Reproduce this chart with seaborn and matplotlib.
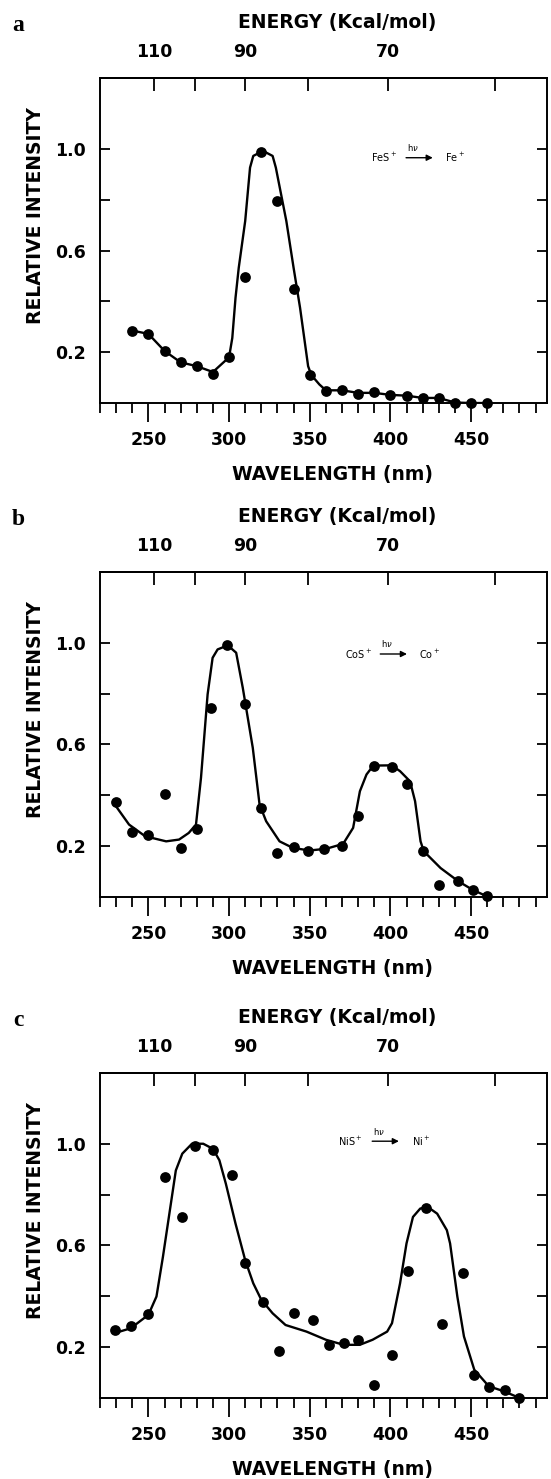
import pandas as pd
import seaborn as sns
import matplotlib.pyplot as plt
from matplotlib.ticker import MultipleLocator

# Measured points (wavelength in nm, relative intensity) for each panel
wl_a = [240, 250, 260, 270, 280, 290, 300, 310, 320, 330, 340, 350, 360, 370, 380, 390, 400, 410, 420, 430, 440, 450, 460]
int_a = [0.285, 0.272, 0.204, 0.161, 0.145, 0.116, 0.182, 0.496, 0.988, 0.795, 0.449, 0.109, 0.049, 0.053, 0.037, 0.042,
         0.032, 0.029, 0.02, 0.02, 0.0, 0.0, 0.0]

wl_b = [230, 240, 250, 260, 270, 280, 289, 299, 310, 320, 330, 340, 349, 359, 370, 380, 390, 401, 410, 420, 430, 442, 451, 460]
int_b = [0.374, 0.256, 0.242, 0.407, 0.193, 0.269, 0.742, 0.99, 0.76, 0.35, 0.173, 0.196, 0.18, 0.189, 0.2, 0.318,
         0.517, 0.511, 0.446, 0.18, 0.049, 0.062, 0.029, 0.003]

wl_c = [229, 239, 250, 260, 271, 279, 290, 302, 310, 321, 331, 340, 352, 362, 371, 380, 390, 401, 411, 422, 432, 445,
        452, 461, 471, 480]
int_c = [0.268, 0.284, 0.329, 0.869, 0.712, 0.993, 0.974, 0.878, 0.532, 0.376, 0.183, 0.336, 0.307, 0.208, 0.216, 0.229,
         0.052, 0.170, 0.50, 0.748, 0.29, 0.49, 0.089, 0.043, 0.03, 0.0]

# Hand-drawn smooth curves
fit_wl_a = [240, 250, 260, 270, 280, 290, 300, 302, 304, 306, 310, 313, 315, 321, 327, 329, 335.5, 340, 344, 349, 351,
            356, 360, 370, 380, 390, 400, 410, 420, 430, 440, 450, 460]
fit_int_a = [0.285, 0.272, 0.205, 0.16, 0.145, 0.122, 0.18, 0.256, 0.414, 0.532, 0.716, 0.926, 0.972, 0.992, 0.972,
             0.926, 0.716, 0.532, 0.375, 0.145, 0.11, 0.073, 0.05, 0.05, 0.04, 0.04, 0.032, 0.029, 0.02, 0.02, 0.002,
             0.0, 0.0]

fit_wl_b = [228, 238, 248, 261, 269, 275, 279.5, 282.6, 286.7, 289.8, 292.9, 299.2, 304.4, 308.5, 314.7, 318.9, 323,
            331.3, 339.6, 350, 360.3, 370.7, 376.9, 381.1, 385.2, 389.4, 400.8, 406, 412.2, 415.3, 418.7, 420.7, 431.1,
            442.1, 450.8, 459.7]
fit_int_b = [0.374, 0.285, 0.239, 0.219, 0.226, 0.252, 0.285, 0.469, 0.797, 0.941, 0.974, 0.99, 0.961, 0.823, 0.587,
             0.364, 0.298, 0.219, 0.193, 0.183, 0.19, 0.209, 0.272, 0.416, 0.482, 0.517, 0.518, 0.495, 0.455, 0.377,
             0.219, 0.18, 0.114, 0.062, 0.029, 0.003]

fit_wl_c = [229, 239, 250, 255, 259, 263, 267, 271, 277, 284, 290, 294, 298, 304, 310, 315, 320, 327, 335, 348, 360,
            371, 381, 389, 398, 401, 406, 410, 414, 418.5, 423, 429, 435, 437, 441.5, 445.6, 452, 461, 470.5, 480]
fit_int_c = [0.255, 0.274, 0.327, 0.399, 0.555, 0.725, 0.895, 0.961, 1.0, 1.0, 0.98, 0.935, 0.843, 0.686, 0.542, 0.451,
             0.386, 0.333, 0.287, 0.261, 0.229, 0.209, 0.209, 0.229, 0.261, 0.294, 0.451, 0.608, 0.712, 0.745, 0.752,
             0.725, 0.66, 0.608, 0.399, 0.242, 0.111, 0.046, 0.026, 0.0]

# Axis ticks and labels
x_major = [250, 300, 350, 400, 450]
y_ticks = [0.2, 0.4, 0.6, 0.8, 1.0]
y_labels = ['0.2', '', '0.6', '', '1.0']
energy_ticks = [110, 100, 90, 80, 70, 60]
energy_labels = ['110', '', '90', '', '70', '']
K_CONV = 27900  # kcal/mol * nm, as drawn on the original top axis

panels = [
    ('a', wl_a, int_a, fit_wl_a, fit_int_a, ('FeS$^+$', 'Fe$^+$'), 396, 0.965),
    ('b', wl_b, int_b, fit_wl_b, fit_int_b, ('CoS$^+$', 'Co$^+$'), 380, 0.956),
    ('c', wl_c, int_c, fit_wl_c, fit_int_c, ('NiS$^+$', 'Ni$^+$'), 375, 1.01),
]

sns.set_theme(style='ticks')
plt.rcParams['font.family'] = ['DejaVu Sans']
plt.rcParams.update({
    'axes.linewidth': 1.4,
    'axes.edgecolor': 'black',
    'text.color': 'black',
    'axes.labelcolor': 'black',
    'xtick.color': 'black',
    'ytick.color': 'black',
})

fig = plt.figure(figsize=(5.51, 14.79), dpi=100)
bottoms = [0.7275, 0.3935, 0.0548]

for (letter, wl, inten, fwl, fint, species, tx, ty), bottom in zip(panels, bottoms):
    ax = fig.add_axes([0.1815, bottom, 0.811, 0.220])

    # Smooth curve and measured points
    sns.lineplot(x=fwl, y=fint, ax=ax, sort=False, estimator=None, color='black', linewidth=1.7)
    sns.scatterplot(x=wl, y=inten, ax=ax, color='black', s=60, edgecolor='black', linewidth=0, zorder=3, clip_on=False)

    ax.set_xlim(220, 497)
    ax.set_ylim(0, 1.28)

    # Bottom wavelength axis
    ax.set_xticks(x_major)
    ax.xaxis.set_minor_locator(MultipleLocator(10))
    ax.tick_params(axis='x', which='major', direction='out', length=14, width=1.3, labelsize=12.5, pad=6)
    ax.tick_params(axis='x', which='minor', direction='out', length=7, width=1.3)
    for lab in ax.get_xticklabels():
        lab.set_fontweight('bold')
    ax.set_xlabel('WAVELENGTH (nm)', fontsize=13.5, fontweight='bold')
    ax.xaxis.set_label_coords(0.52, -0.19)

    # Intensity axis
    ax.set_yticks(y_ticks)
    ax.set_yticklabels(y_labels, fontweight='bold')
    ax.tick_params(axis='y', which='major', direction='in', length=7, width=1.3, labelsize=12.5, pad=10,
                   left=True, right=True)
    ax.set_ylabel('RELATIVE INTENSITY', fontsize=13.5, fontweight='bold')
    ax.yaxis.set_label_coords(-0.123, 0.577)

    # Top energy axis
    secax = ax.secondary_xaxis('top', functions=(lambda x: K_CONV / x, lambda e: K_CONV / e))
    secax.set_xticks(energy_ticks)
    secax.set_xticklabels(energy_labels, fontweight='bold')
    secax.tick_params(direction='in', length=9, width=1.3, labelsize=12.5, pad=12)
    ax.text(0.53, 1.169, 'ENERGY (Kcal/mol)', transform=ax.transAxes, fontsize=13.5, fontweight='bold',
            ha='center', va='center')

    # Reaction annotation
    ax.text(tx, ty, species[0], fontsize=7, ha='center', va='center')
    ax.annotate('', xy=(tx + 32, ty), xytext=(tx + 12, ty),
                arrowprops=dict(arrowstyle='-|>', color='black', lw=1, mutation_scale=9))
    ax.text(tx + 18, ty + 0.04, 'h$\\nu$', fontsize=6, ha='center', va='center')
    ax.text(tx + 44, ty, species[1], fontsize=7, ha='center', va='center')

    # Panel letter
    fig.text(0.033, bottom + 0.220 + 0.035, letter, fontsize=17, fontweight='bold',
             family='Liberation Serif', ha='center', va='center')

plt.savefig('out.png', dpi=100)
